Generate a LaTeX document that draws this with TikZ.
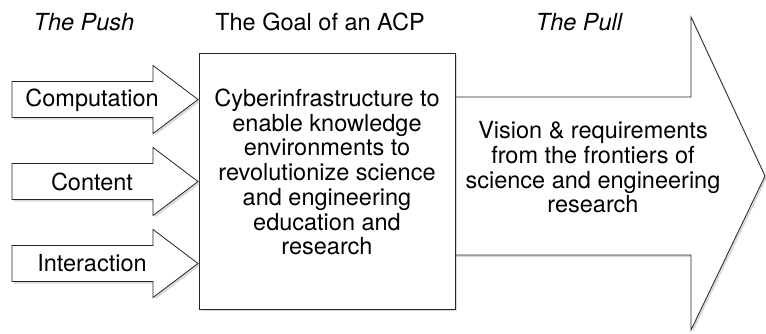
\documentclass[tikz,border=0pt]{standalone}
\usepackage{fontspec}
\setmainfont{TeX Gyre Heros}
\usetikzlibrary{shadows}
\begin{document}
\begin{tikzpicture}[x=1pt,y=-1pt,line width=0.8pt,
    shape line/.style={draw=black!85,fill=white,
        drop shadow={shadow xshift=2pt,shadow yshift=-2pt,opacity=0.3}},
    main text/.style={font=\fontsize{23.5}{24.7}\selectfont,align=center,inner sep=0pt},
    head text/.style={main text}]

    \useasboundingbox (0,0) rectangle (766,333);

    % Headings
    \node[head text] (pushhd) at (84,22) {\itshape The Push};
    \node[head text] (goalhd) at (320,22) {The Goal of an ACP};
    \node[head text] (pullhd) at (579,22) {\itshape The Pull};

    % The pull arrow
    \draw[shape line] (440,97) -- (691,97) -- (691,17) -- (765,176)
        -- (691,330) -- (691,255) -- (440,255) -- cycle;
    \node[main text] (pull) at (593,167.5) {Vision \& requirements\\from the frontiers of\\science and engineering\\research};

    % The goal box
    \node[shape line,minimum width=256pt,minimum height=256pt] (goal) at (327,181) {};
    \node[main text] (goaltext) at (327,172) {Cyberinfrastructure to\\enable knowledge\\environments to\\revolutionize science\\and engineering\\education and\\research};

    % The push arrows
    \draw[shape line] (12,81.5) -- (153,81.5) -- (153,65.5) -- (198,99.5)
        -- (153,133.5) -- (153,117.5) -- (12,117.5) -- cycle;
    \draw[shape line] (12,163.5) -- (153,163.5) -- (153,147.5) -- (198,181.5)
        -- (153,215.5) -- (153,199.5) -- (12,199.5) -- cycle;
    \draw[shape line] (12,245.5) -- (153,245.5) -- (153,229.5) -- (198,263.5)
        -- (153,297.5) -- (153,281.5) -- (12,281.5) -- cycle;
    \node[main text] (comp) at (92,100) {Computation};
    \node[main text] (cont) at (92,181.5) {Content};
    \node[main text] (inter) at (92,263.5) {Interaction};

\end{tikzpicture}
\end{document}
